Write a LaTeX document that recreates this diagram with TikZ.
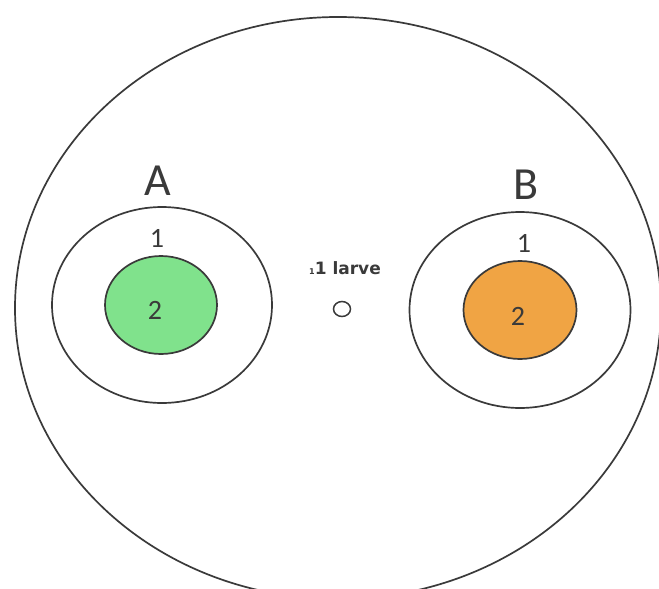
\documentclass[tikz,border=0pt]{standalone}
\usepackage{fontspec}
\setmainfont{Carlito}
\newfontfamily\larvefont{DejaVu Sans}
\usetikzlibrary{shapes.geometric}
\definecolor{ln}{HTML}{3A3A3A}
\definecolor{grn}{HTML}{80E28C}
\definecolor{org}{HTML}{F0A444}
\begin{document}
\begin{tikzpicture}[x=1pt,y=-1pt,
  ring/.style={ellipse, draw=ln, line width=1.7pt, inner sep=0pt},
  big/.style={text=ln, inner sep=0pt, font=\fontsize{46}{50}\selectfont},
  num/.style={text=ln, inner sep=0pt, font=\fontsize{28}{30}\selectfont},
  small/.style={text=ln, inner sep=0pt, font=\larvefont\bfseries\fontsize{17}{19}\selectfont}]
\useasboundingbox (0,0) rectangle (659,589);
\fill[white] (0,0) rectangle (659,589);
% dish
\node[ring, minimum width=646pt, minimum height=582pt] (dish) at (338,308) {};
% zone A
\node[ring, minimum width=220pt, minimum height=196pt] (A1) at (162,305) {};
\node[ring, fill=grn, minimum width=112pt, minimum height=98pt] (A2) at (161,305) {};
\node[big] (Alab) at (158,181) {A};
\node[num] (A1lab) at (157,238) {1};
\node[num] (A2lab) at (155,310) {2};
% zone B
\node[ring, minimum width=221pt, minimum height=196pt] (B1) at (520,310) {};
\node[ring, fill=org, minimum width=113pt, minimum height=98pt] (B2) at (520,310) {};
\node[big] (Blab) at (526,185) {B};
\node[num] (B1lab) at (524,243) {1};
\node[num] (B2lab) at (518,316) {2};
% larva
\node[small] (larvelab) at (345,268) {{\fontsize{8}{9}\selectfont 1}1 larve};
\node[ellipse, draw=ln, line width=1.5pt, inner sep=0pt, minimum width=17pt, minimum height=15pt] (larva) at (342,309) {};
\end{tikzpicture}
\end{document}
